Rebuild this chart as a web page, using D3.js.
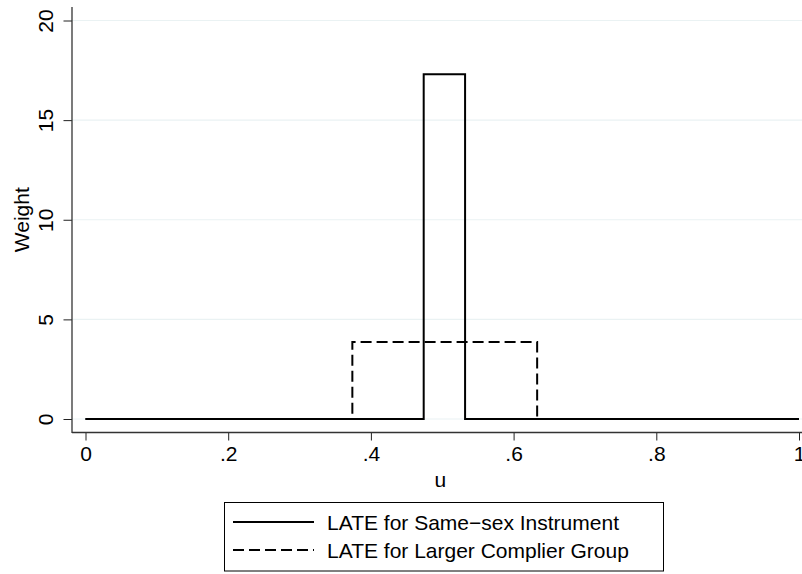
<!DOCTYPE html>
<html>
<head>
<meta charset="utf-8">
<script src="https://cdn.jsdelivr.net/npm/d3@7"></script>
<style>
  body { margin: 0; background: #fff; }
  svg { display: block; font-family: "Liberation Sans", Arial, Helvetica, sans-serif; }
</style>
</head>
<body>
<svg id="chart" width="802" height="574"></svg>
<script>
// ---- data ----
const xTicks = [0, 0.2, 0.4, 0.6, 0.8, 1];
const xTickLabels = ["0", ".2", ".4", ".6", ".8", "1"];
const yTicks = [0, 5, 10, 15, 20];
const yTickLabels = ["0", "5", "10", "15", "20"];

const sameSexU = [0, 0.474, 0.474, 0.532, 0.532, 1];
const sameSexW = [0, 0, 17.3, 17.3, 0, 0];
const complierU = [0, 0.374, 0.374, 0.633, 0.633, 1];
const complierW = [0, 0, 3.86, 3.86, 0, 0];

const seriesNames = ["LATE for Same\u2212sex Instrument", "LATE for Larger Complier Group"];
const xTitle = "u";
const yTitle = "Weight";

// ---- layout ----
const FS = 21;
const svg = d3.select("#chart");
const x = d3.scaleLinear().domain([0, 1]).range([85.5, 799]);
const y = d3.scaleLinear().domain([0, 20]).range([419, 20.5]);
const axisX = 72, axisY = 432.5, plotTop = 7;

// gridlines
svg.append("g").selectAll("line").data(yTicks).join("line")
  .attr("x1", axisX).attr("x2", 802)
  .attr("y1", d => y(d)).attr("y2", d => y(d))
  .attr("stroke", "#eaf2f3").attr("stroke-width", 1.2);

// series
const line = d3.line().x(d => x(d[0])).y(d => y(d[1]));
const solidData = sameSexU.map((u, i) => [u, sameSexW[i]]);
const dashData = complierU.map((u, i) => [u, complierW[i]]);

svg.append("path").datum(dashData).attr("d", line)
  .attr("fill", "none").attr("stroke", "#000").attr("stroke-width", 2)
  .attr("stroke-dasharray", "11,5");
svg.append("path").datum(solidData).attr("d", line)
  .attr("fill", "none").attr("stroke", "#000").attr("stroke-width", 2);

// axes
const xAxis = d3.axisBottom(x).tickValues(xTicks)
  .tickFormat((d, i) => xTickLabels[i]).tickSize(8).tickSizeOuter(0);
const gx = svg.append("g").attr("transform", `translate(0,${axisY})`).call(xAxis);
gx.select(".domain").remove();
gx.selectAll(".tick line").attr("stroke", "#222");
gx.selectAll(".tick text").attr("font-size", FS).attr("fill", "#000")
  .attr("font-family", "Liberation Sans, Arial, sans-serif")
  .attr("y", 28).attr("dy", null);

const yAxis = d3.axisLeft(y).tickValues(yTicks)
  .tickFormat((d, i) => yTickLabels[i]).tickSize(8.5).tickSizeOuter(0);
const gy = svg.append("g").attr("transform", `translate(${axisX},0)`).call(yAxis);
gy.select(".domain").remove();
gy.selectAll(".tick line").attr("stroke", "#222");
gy.selectAll(".tick text")
  .attr("font-size", FS).attr("fill", "#000")
  .attr("font-family", "Liberation Sans, Arial, sans-serif")
  .attr("text-anchor", "middle")
  .attr("x", 0).attr("dy", null)
  .attr("transform", "translate(-27,0) rotate(-90)")
  .attr("dominant-baseline", "central");

svg.append("line").attr("x1", axisX).attr("x2", axisX)
  .attr("y1", plotTop).attr("y2", axisY + 0.5)
  .attr("stroke", "#333").attr("stroke-width", 1.3);
svg.append("line").attr("x1", axisX).attr("x2", 802)
  .attr("y1", axisY).attr("y2", axisY)
  .attr("stroke", "#333").attr("stroke-width", 1.3);

// axis titles
svg.append("text").attr("x", x(0.5) - 2).attr("y", 479)
  .attr("text-anchor", "middle").attr("dominant-baseline", "central")
  .attr("font-size", FS).text(xTitle);
svg.append("text")
  .attr("transform", `translate(21,${(plotTop + axisY) / 2}) rotate(-90)`)
  .attr("text-anchor", "middle").attr("dominant-baseline", "central")
  .attr("font-size", FS).text(yTitle);

// legend
const lg = svg.append("g");
lg.append("rect").attr("x", 224.5).attr("y", 502.5).attr("width", 439).attr("height", 68.5)
  .attr("fill", "#fff").attr("stroke", "#000").attr("stroke-width", 1);
const rowsY = [522, 550];
seriesNames.forEach((name, i) => {
  lg.append("line").attr("x1", 233).attr("x2", 314)
    .attr("y1", rowsY[i]).attr("y2", rowsY[i])
    .attr("stroke", "#000").attr("stroke-width", 2)
    .attr("stroke-dasharray", i === 1 ? "11,5" : null);
  lg.append("text").attr("x", 327).attr("y", rowsY[i])
    .attr("dominant-baseline", "central").attr("font-size", FS).text(name);
});
</script>
</body>
</html>
